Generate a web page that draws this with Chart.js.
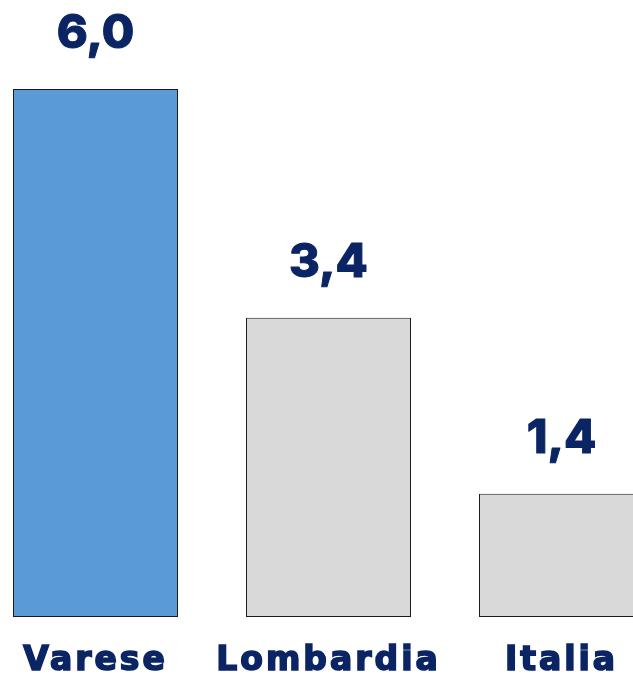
<!DOCTYPE html>
<html>
<head>
<meta charset="utf-8">
<script src="https://cdn.jsdelivr.net/npm/chart.js@4.4.1/dist/chart.umd.min.js"></script>
<style>
  html, body { margin: 0; padding: 0; background: #fff; overflow: hidden; }
  #wrap { position: relative; width: 633px; height: 674px; overflow: hidden; }
  #chart { position: absolute; left: -21px; top: 0; }
</style>
</head>
<body>
<div id="wrap"><canvas id="chart" width="699" height="674"></canvas></div>
<script>
const categories = ["Varese", "Lombardia", "Italia"];
const values = [6.0, 3.4, 1.4];
const barColors = ["#5b9bd5", "#d9d9d9", "#d9d9d9"];

const navy = "#0b2463";
const numFont = "Inter, 'Noto Sans', sans-serif";
const labelFont = "'DejaVu Sans', sans-serif";

// wider spacing for the category labels (the original font is a wide geometric one)
const tickSpacing = {
  id: "tickSpacing",
  beforeDraw(chart) {
    chart.ctx.letterSpacing = "3px";
  }
};

// value labels above each bar, Italian decimal comma
const valueLabels = {
  id: "valueLabels",
  afterDatasetsDraw(chart) {
    const ctx = chart.ctx;
    const meta = chart.getDatasetMeta(0);
    ctx.save();
    ctx.letterSpacing = "0px";
    ctx.fillStyle = navy;
    ctx.strokeStyle = navy;
    ctx.lineWidth = 1;
    ctx.lineJoin = "round";
    ctx.font = "800 47px " + numFont;
    ctx.textAlign = "center";
    ctx.textBaseline = "alphabetic";
    meta.data.forEach((bar, i) => {
      const txt = values[i].toFixed(1).replace(".", ",");
      ctx.fillText(txt, bar.x, bar.y - 41);
      ctx.strokeText(txt, bar.x, bar.y - 41);
    });
    ctx.restore();
  }
};

new Chart(document.getElementById("chart"), {
  type: "bar",
  data: {
    labels: categories,
    datasets: [{
      data: values,
      backgroundColor: barColors,
      borderColor: "#1a1a1a",
      borderWidth: 1,
      borderSkipped: false,
      categoryPercentage: 1,
      barPercentage: 0.708
    }]
  },
  options: {
    responsive: false,
    animation: false,
    layout: { padding: { top: 89, bottom: 0, left: 0, right: 0 } },
    plugins: { legend: { display: false }, tooltip: { enabled: false } },
    scales: {
      y: { display: false, min: 0, max: 6 },
      x: {
        grid: { display: false, drawTicks: false },
        border: { display: false },
        afterFit(scale) { scale.height = 57; },
        ticks: {
          color: navy,
          textStrokeColor: navy,
          textStrokeWidth: 1.6,
          padding: 30,
          font: { family: labelFont, size: 33, weight: "bold", lineHeight: "28px" }
        }
      }
    }
  },
  plugins: [tickSpacing, valueLabels]
});
</script>
</body>
</html>
